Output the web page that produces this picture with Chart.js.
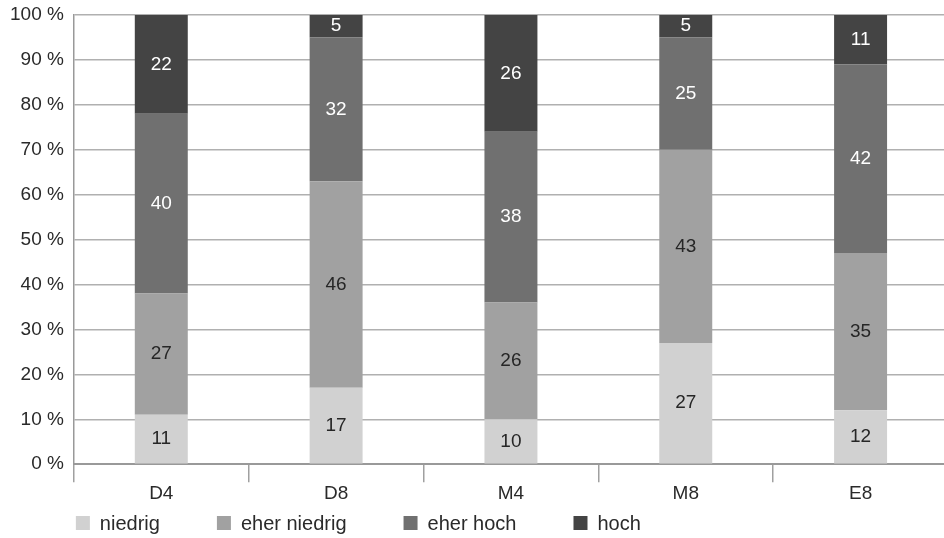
<!DOCTYPE html>
<html>
<head>
<meta charset="utf-8">
<script src="https://cdn.jsdelivr.net/npm/chart.js@4/dist/chart.umd.min.js"></script>
<style>
  html, body { margin: 0; padding: 0; background: #fff; overflow: hidden; }
  #wrap { width: 960px; height: 538px; position: relative; }
</style>
</head>
<body>
<div id="wrap"><canvas id="c"></canvas></div>
<script>
// Share of answers per group (percent)
const categories = ['D4', 'D8', 'M4', 'M8', 'E8'];
const seriesNames = ['niedrig', 'eher niedrig', 'eher hoch', 'hoch'];
const niedrig     = [11, 17, 10, 27, 12];
const eherNiedrig = [27, 46, 26, 43, 35];
const eherHoch    = [40, 32, 38, 25, 42];
const hoch        = [22,  5, 26,  5, 11];
const yTicks = [0, 10, 20, 30, 40, 50, 60, 70, 80, 90, 100];

const fillColors  = ['#d1d1d1', '#a1a1a1', '#707070', '#444444'];
const labelColors = ['#262626', '#262626', '#ffffff', '#ffffff'];
const TEXT = '#2a2a2a';
const FONT = '"Liberation Sans", Arial, sans-serif';
const FONT_SIZE = 19;
const LEGEND_FONT_SIZE = 20;

// Writes each segment's value in the middle of its bar
const segmentLabels = {
  id: 'segmentLabels',
  afterDatasetsDraw(chart) {
    const ctx = chart.ctx;
    ctx.save();
    ctx.font = FONT_SIZE + 'px ' + FONT;
    ctx.textAlign = 'center';
    ctx.textBaseline = 'middle';
    chart.data.datasets.forEach((ds, di) => {
      const meta = chart.getDatasetMeta(di);
      meta.data.forEach((bar, i) => {
        const y = (bar.y + bar.base) / 2;
        ctx.fillStyle = labelColors[di];
        ctx.fillText(String(ds.data[i]), bar.x, y);
      });
    });
    ctx.restore();
  }
};

// Legend row under the axis: square swatch, then the series name
const bottomLegend = {
  id: 'bottomLegend',
  afterDraw(chart) {
    const ctx = chart.ctx;
    const box = 14, gapText = 10, gapItem = 57;
    const yMid = 523;
    let x = chart.chartArea.left + 2;
    ctx.save();
    ctx.font = LEGEND_FONT_SIZE + 'px ' + FONT;
    ctx.textBaseline = 'middle';
    ctx.textAlign = 'left';
    chart.data.datasets.forEach(ds => {
      ctx.fillStyle = ds.backgroundColor;
      ctx.fillRect(x, yMid - box / 2, box, box);
      x += box + gapText;
      ctx.fillStyle = TEXT;
      ctx.fillText(ds.label, x, yMid + 1);
      x += ctx.measureText(ds.label).width + gapItem;
    });
    ctx.restore();
  }
};

const series = [niedrig, eherNiedrig, eherHoch, hoch];

new Chart(document.getElementById('c'), {
  type: 'bar',
  data: {
    labels: categories,
    datasets: series.map((vals, i) => ({
      label: seriesNames[i],
      data: vals,
      backgroundColor: fillColors[i],
      borderWidth: 0,
      categoryPercentage: 1,
      barPercentage: 0.303
    }))
  },
  options: {
    responsive: true,
    maintainAspectRatio: false,
    animation: false,
    devicePixelRatio: 1,
    layout: { padding: { top: 15, right: 12, left: 0, bottom: 33 } },
    plugins: {
      tooltip: { enabled: false },
      legend: { display: false }
    },
    scales: {
      x: {
        stacked: true,
        grid: {
          offset: true,
          drawOnChartArea: false,
          drawTicks: true,
          tickLength: 18,
          color: '#a0a0a0',
          lineWidth: 1.5
        },
        border: { color: '#999999', width: 2 },
        ticks: {
          color: TEXT,
          font: { family: FONT, size: FONT_SIZE },
          padding: 0
        }
      },
      y: {
        stacked: true,
        min: 0,
        max: 100,
        afterBuildTicks(axis) {
          axis.ticks = yTicks.map(v => ({ value: v }));
        },
        grid: {
          color: '#b0b0b0',
          lineWidth: 1.5,
          drawTicks: false
        },
        border: { color: '#999999', width: 1.5 },
        ticks: {
          color: TEXT,
          padding: 10,
          font: { family: FONT, size: FONT_SIZE, lineHeight: 0.5 },
          callback: v => v + ' %'
        }
      }
    }
  },
  plugins: [segmentLabels, bottomLegend]
});
</script>
</body>
</html>
